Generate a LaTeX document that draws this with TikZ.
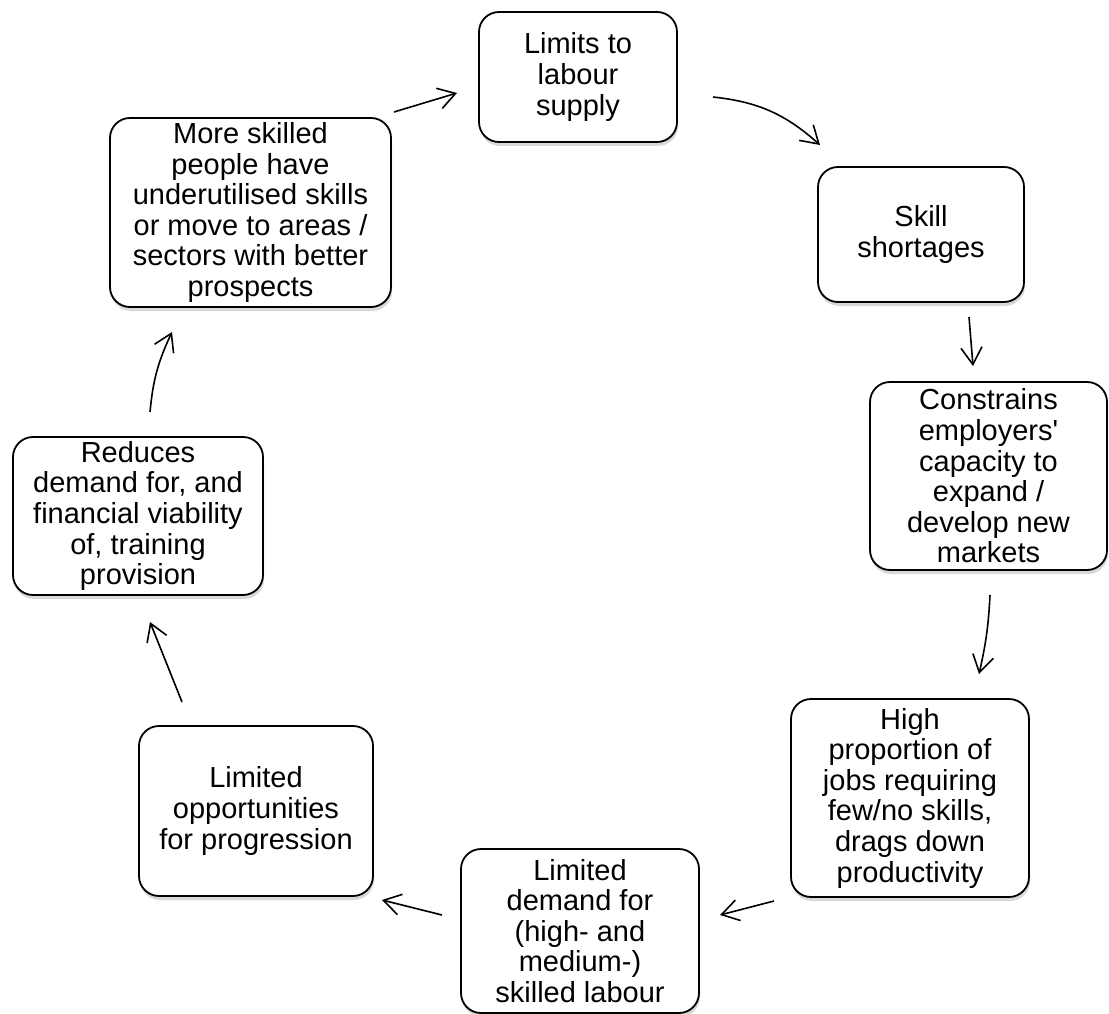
\documentclass[tikz,border=0pt]{standalone}
\usepackage{fontspec}
\setmainfont{Liberation Sans}
\usetikzlibrary{arrows.meta,shadows,bending}
\begin{document}
\begin{tikzpicture}[x=1pt,y=1pt,
  box/.style={draw, line width=1.8pt, rounded corners=20pt, fill=white, align=center,
    inner sep=0pt, font=\fontsize{29}{30.6}\selectfont,
    drop shadow={shadow xshift=1pt, shadow yshift=-4pt, opacity=0.3, fill=gray}},
  conn/.style={line width=1.6pt, -{Straight Barb[length=17pt,width=21pt]}}
]
\useasboundingbox[fill=white] (0,0) rectangle (1109,-1014);

\node[box, minimum width=198pt, minimum height=130pt] (n1) at (578,-77) {Limits to\\labour\\supply};
\node[box, minimum width=206pt, minimum height=135pt] (n2) at (921,-234.5) {Skill\\shortages};
\node[box, minimum width=237pt, minimum height=188pt] (n3) at (988.5,-476) {Constrains\\employers\textquotesingle\\capacity to\\expand /\\develop new\\markets};
\node[box, minimum width=238pt, minimum height=198pt] (n4) at (910,-798) {High\\proportion of\\jobs requiring\\few/no skills,\\drags down\\productivity};
\node[box, minimum width=238pt, minimum height=164pt] (n5) at (580,-931) {Limited\\demand for\\(high- and\\medium-)\\skilled labour};
\node[box, minimum width=234pt, minimum height=170pt] (n6) at (256,-811) {Limited\\opportunities\\for progression};
\node[box, minimum width=250pt, minimum height=158pt] (n7) at (138,-516) {Reduces\\demand for, and\\financial viability\\of, training\\provision};
\node[box, minimum width=281pt, minimum height=189pt] (n8) at (250.5,-212.5) {More skilled\\people have\\underutilised skills\\or move to areas /\\sectors with better\\prospects};

\coordinate (a1s) at (394,-112); \coordinate (a1e) at (457,-93);
\coordinate (a2s) at (713,-97);  \coordinate (a2e) at (820,-145);
\coordinate (a3s) at (969,-317); \coordinate (a3e) at (973,-366);
\coordinate (a4s) at (990,-595); \coordinate (a4e) at (979,-674);
\coordinate (a5s) at (774,-901); \coordinate (a5e) at (720,-915);
\coordinate (a6s) at (442,-915); \coordinate (a6e) at (382,-900);
\coordinate (a7s) at (182,-702); \coordinate (a7e) at (150,-622);
\coordinate (a8s) at (150,-412); \coordinate (a8e) at (172,-332);

\draw[conn] (a1s) -- (a1e);
\draw[conn] (a2s) to[bend left=18] (a2e);
\draw[conn] (a3s) -- (a3e);
\draw[conn] (a4s) to[bend left=5] (a4e);
\draw[conn] (a5s) -- (a5e);
\draw[conn] (a6s) -- (a6e);
\draw[conn] (a7s) -- (a7e);
\draw[conn] (a8s) to[bend left=10] (a8e);
\end{tikzpicture}
\end{document}
